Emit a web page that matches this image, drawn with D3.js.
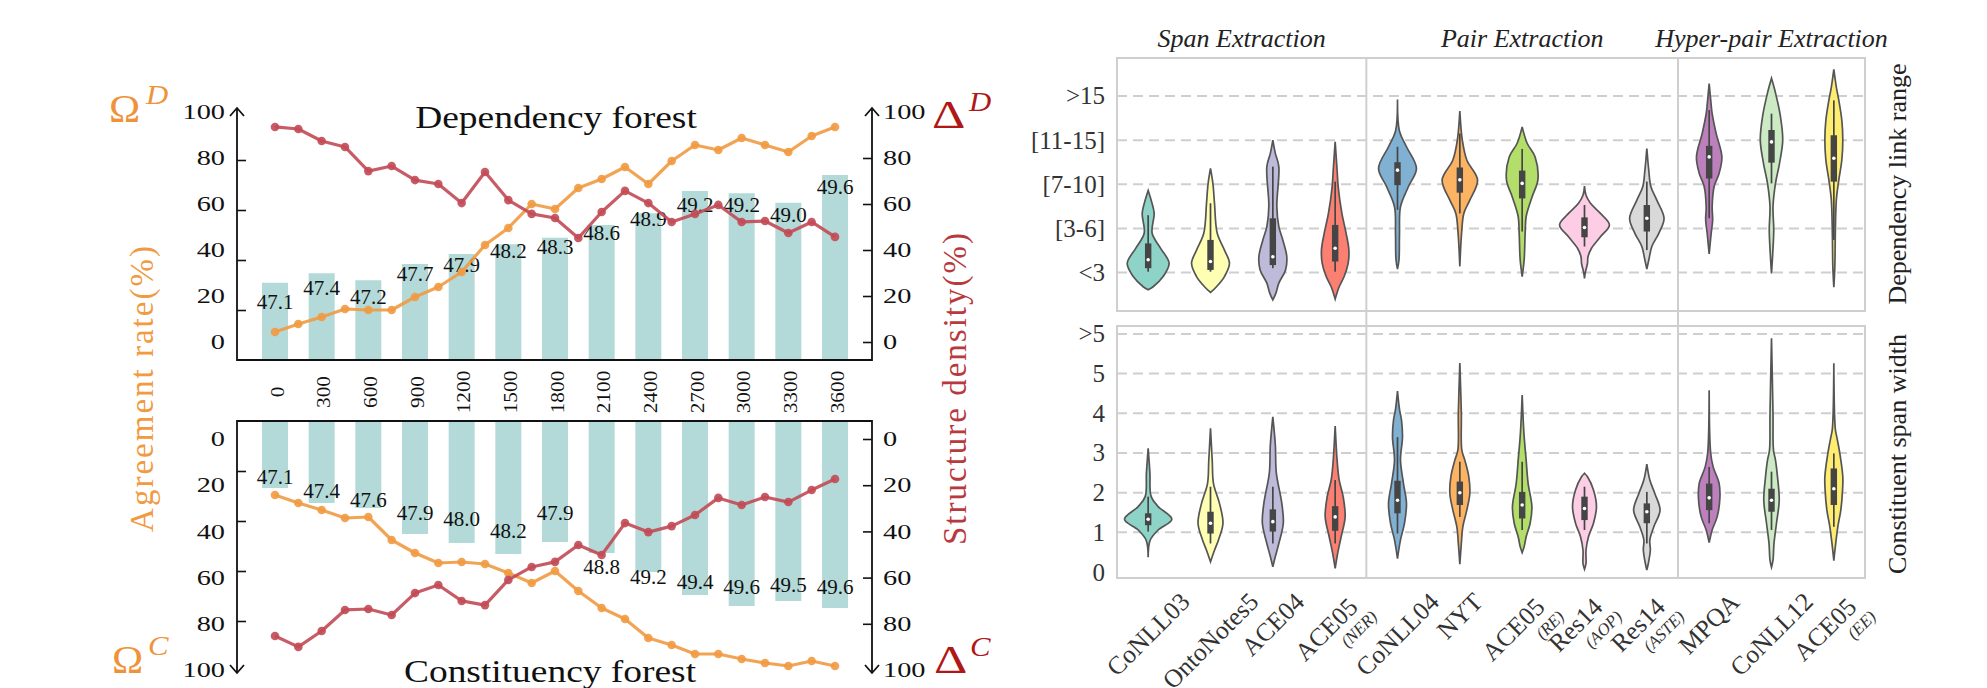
<!DOCTYPE html>
<html>
<head>
<meta charset="utf-8">
<script src="https://cdn.jsdelivr.net/npm/d3@7"></script>
<style>
  body { margin: 0; background: #fff; }
  svg { display: block; }
  text { font-family: "Liberation Serif", serif; }
</style>
</head>
<body>
<svg id="fig" width="1987" height="688"></svg>
<script>
// ---------------- data: left figure ----------------
var steps = ["0","300","600","900","1200","1500","1800","2100","2400","2700","3000","3300","3600"];

var depBarLabels = [47.1,47.4,47.2,47.7,47.9,48.2,48.3,48.6,48.9,49.2,49.2,49.0,49.6];
var depBars = [30.9,34.7,31.9,38.4,42.4,46.3,48.9,54.0,58.7,67.6,66.7,62.9,74.0];
var depAgree = [11.2,14.4,17.2,20.4,20.0,20.0,25.2,29.2,35.2,46.0,52.8,62.4,60.4,68.8,72.4,77.2,70.4,79.6,86.0,84.0,88.8,86.0,83.2,89.6,93.2];
var depDensity = [93.5,92.6,87.4,84.8,74.3,76.5,70.4,68.7,60.4,73.9,61.7,55.7,53.9,45.2,56.5,65.7,60.4,52.2,55.7,59.6,52.2,52.6,47.4,52.2,45.7];

var conBarLabels = [47.1,47.4,47.6,47.9,48.0,48.2,47.9,48.8,49.2,49.4,49.6,49.5,49.6];
var conBars = [26.8,32.8,34.8,45.2,48.8,53.2,48.4,52.8,60.4,69.6,74.0,72.0,74.8];
var conAgree = [29.6,32.8,35.6,38.8,38.4,47.6,52.8,56.8,56.4,57.2,60.8,64.8,60.0,68.0,74.8,79.2,86.8,89.6,93.2,93.2,95.2,96.8,98.0,96.0,98.0];
var conDensity = [85.3,90.0,83.1,74.0,73.6,76.2,66.7,63.2,70.1,71.9,61.0,55.4,53.2,45.9,50.2,36.4,40.3,37.7,32.9,25.5,28.6,25.1,27.3,22.1,17.3];

var axisTicks = [0,20,40,60,80,100];

// ---------------- data: right figure (violins) ----------------
var datasets = ["CoNLL03","OntoNotes5","ACE04","ACE05","CoNLL04","NYT","ACE05","Res14","Res14","MPQA","CoNLL12","ACE05"];
var subsets  = ["","","","(NER)","","","(RE)","(AOP)","(ASTE)","","","(EE)"];
var taskNames = ["Span Extraction","Pair Extraction","Hyper-pair Extraction"];
var taskSizes = [4,5,3];
var linkTicks = ["<3","[3-6]","[7-10]","[11-15]",">15"];
var spanTicks = ["0","1","2","3","4","5",">5"];

// box = [whisker low, q1, median, q3, whisker high]; prof = [value, relative density], top to bottom
var linkViolins = [
  {box:[0.02,0.10,0.29,0.66,1.30], prof:[[1.86,0],[1.6,.14],[1.34,.24],[0.89,.16],[0.55,.5],[0.21,.84],[-0.09,.6],[-0.32,.2],[-0.39,0]]},
  {box:[0.02,0.06,0.25,0.74,1.57], prof:[[2.36,0],[2.0,.1],[1.57,.16],[0.89,.27],[0.51,.56],[0.21,.76],[-0.09,.56],[-0.32,.24],[-0.45,0]]},
  {box:[0.10,0.17,0.36,1.23,2.40], prof:[[3.0,0],[2.7,.1],[2.4,.24],[1.5,.16],[1.04,.24],[0.74,.4],[0.36,.56],[0.06,.51],[-0.24,.24],[-0.47,.12],[-0.62,0]]},
  {box:[0.02,0.25,0.55,1.08,2.06], prof:[[2.96,0],[2.3,.08],[1.95,.12],[1.34,.27],[0.89,.44],[0.51,.55],[0.21,.52],[-0.09,.36],[-0.32,.16],[-0.6,0]]},
  {box:[1.42,1.98,2.32,2.50,2.85], prof:[[3.92,0],[3.2,.08],[2.85,.36],[2.36,.76],[1.95,.44],[1.49,.12],[0.89,.08],[0.29,.06],[0.08,0]]},
  {box:[1.34,1.81,2.10,2.38,3.15], prof:[[3.66,0],[3.0,.1],[2.55,.28],[2.1,.71],[1.64,.4],[1.34,.16],[0.89,.07],[0.14,0]]},
  {box:[0.93,1.68,2.02,2.31,2.80], prof:[[3.3,0],[2.93,.2],[2.62,.52],[2.1,.63],[1.72,.4],[1.27,.16],[0.89,.12],[0.29,.08],[-0.09,0]]},
  {box:[0.59,0.80,1.02,1.25,1.53], prof:[[1.96,0],[1.75,.06],[1.57,.24],[1.34,.64],[1.08,1.0],[0.81,.64],[0.55,.28],[0.36,.14],[0.21,.12],[0.02,.04],[-0.13,0]]},
  {box:[0.51,0.93,1.23,1.53,2.06], prof:[[2.81,0],[2.3,.08],[1.95,.16],[1.64,.4],[1.23,.69],[0.89,.48],[0.59,.2],[0.29,.08],[0.08,0]]},
  {box:[1.23,2.13,2.62,2.87,3.68], prof:[[4.28,0],[3.8,.08],[3.6,.12],[3.15,.28],[2.62,.51],[2.25,.4],[1.95,.2],[1.49,.12],[1.19,.14],[0.89,.08],[0.42,0]]},
  {box:[2.02,2.49,2.96,3.23,3.60], prof:[[4.4,0],[4.07,.16],[3.53,.36],[3.0,.45],[2.47,.32],[2.02,.16],[1.49,.06],[0.97,.09],[0.44,.05],[-0.02,0]]},
  {box:[0.74,2.06,2.59,3.11,3.90], prof:[[4.6,0],[4.2,.1],[3.9,.2],[3.45,.32],[3.0,.36],[2.55,.32],[2.1,.2],[1.64,.1],[0.89,.06],[0.14,.04],[-0.33,0]]}
];
var spanViolins = [
  {box:[1.02,1.18,1.33,1.48,1.90], prof:[[3.12,0],[2.5,.07],[1.9,.12],[1.65,.4],[1.33,.95],[1.06,.4],[0.8,.08],[0.37,0]]},
  {box:[0.72,0.97,1.23,1.52,2.15], prof:[[3.62,0],[2.8,.07],[2.23,.12],[1.73,.36],[1.23,.5],[0.81,.32],[0.55,.16],[0.26,0]]},
  {box:[0.72,1.02,1.27,1.58,2.15], prof:[[3.91,0],[3.2,.1],[2.5,.14],[1.73,.36],[1.23,.42],[0.72,.24],[0.39,.1],[0.13,0]]},
  {box:[0.72,1.04,1.39,1.66,2.32], prof:[[3.68,0],[2.8,.08],[2.32,.16],[1.9,.32],[1.39,.4],[0.89,.24],[0.47,.1],[0.09,0]]},
  {box:[0.97,1.48,1.81,2.30,3.40], prof:[[4.56,0],[4.1,.08],[3.83,.16],[3.4,.2],[2.82,.12],[2.23,.24],[1.73,.36],[1.23,.28],[0.81,.12],[0.34,0]]},
  {box:[1.39,1.69,2.00,2.28,2.78], prof:[[5.27,0],[4.0,.06],[3.07,.08],[2.82,.2],[2.4,.36],[1.98,.4],[1.56,.28],[1.14,.12],[0.72,.06],[0.2,0]]},
  {box:[1.06,1.35,1.69,2.02,2.78], prof:[[4.46,0],[3.5,.07],[2.82,.16],[2.23,.24],[1.65,.39],[1.23,.32],[0.89,.16],[0.64,.08],[0.49,0]]},
  {box:[1.06,1.31,1.60,1.90,2.15], prof:[[2.49,0],[2.4,.12],[2.07,.36],[1.65,.48],[1.23,.36],[0.89,.16],[0.55,.06],[0.22,.06],[0.07,0]]},
  {box:[0.72,1.23,1.52,1.73,2.02], prof:[[2.72,0],[2.32,.12],[1.98,.32],[1.56,.53],[1.14,.28],[0.81,.12],[0.55,.14],[0.22,.06],[0.05,0]]},
  {box:[1.23,1.56,1.87,2.23,2.65], prof:[[4.58,0],[3.0,.06],[2.65,.16],[2.23,.4],[1.86,.43],[1.39,.32],[1.06,.12],[0.74,0]]},
  {box:[1.06,1.52,1.81,2.10,2.53], prof:[[5.89,0],[4.0,.06],[3.07,.08],[2.82,.16],[2.4,.24],[1.81,.31],[1.23,.2],[0.72,.1],[0.3,.06],[0.12,0]]},
  {box:[1.14,1.69,2.10,2.61,2.99], prof:[[5.26,0],[3.6,.06],[3.4,.12],[2.99,.24],[2.4,.36],[2.07,.35],[1.56,.28],[1.14,.16],[0.64,.06],[0.29,0]]}
];

// ---------------- colours ----------------
var orange = "#f19a42", red = "#c24a55", barFill = "#b3dad8";
var omegaCol = "#f0923a", deltaCol = "#b01818", densLabelCol = "#b83a3e";

var svg = d3.select("#fig");

// text stretched horizontally (the original font is wider than Liberation Serif)
function stext(g, x, y, str, size, sx, extra) {
  var t = g.append("text")
    .attr("transform", "translate(" + x + "," + y + ")" + (extra || "") + " scale(" + sx + ",1)")
    .attr("font-size", size)
    .text(str);
  return t;
}
function stretchAxisText(g, sx) {
  g.selectAll(".tick text").each(function () {
    var t = d3.select(this);
    var x = +t.attr("x") || 0;
    t.attr("x", 0).attr("transform", "translate(" + x + ",0) scale(" + sx + ",1)");
  });
}

// ---------------- left figure ----------------
var xi = d3.scaleLinear().domain([0, 12]).range([275, 835]);
var axL = 237, axR = 872, barW = 26;

function forest(o) {
  var g = svg.append("g");
  var base = o.yL(0);

  // bars
  g.selectAll("rect.bar").data(o.bars).enter().append("rect")
    .attr("x", function (d, i) { return xi(i) - barW / 2; })
    .attr("width", barW)
    .attr("y", function (d) { return Math.min(o.yL(d), base); })
    .attr("height", function (d) { return Math.abs(o.yL(d) - base); })
    .attr("fill", barFill);

  // bar labels
  g.selectAll("text.bl").data(o.labels).enter().append("text")
    .attr("x", function (d, i) { return xi(i); })
    .attr("y", function (d) { return o.labY(d); })
    .attr("text-anchor", "middle")
    .attr("dominant-baseline", "central")
    .attr("font-size", 21)
    .attr("fill", "#111")
    .text(function (d) { return d.toFixed(1); });

  // lines
  function series(vals, y, col) {
    var line = d3.line().x(function (d, i) { return xi(i / 2); }).y(function (d) { return y(d); });
    g.append("path").datum(vals).attr("d", line)
      .attr("fill", "none").attr("stroke", col).attr("stroke-width", 3.2)
      .attr("stroke-opacity", 0.9).attr("stroke-linejoin", "round");
    g.selectAll(null).data(vals).enter().append("circle")
      .attr("cx", function (d, i) { return xi(i / 2); })
      .attr("cy", function (d) { return y(d); })
      .attr("r", 4.3).attr("fill", col).attr("fill-opacity", 0.9);
  }
  series(o.agree, o.yL, orange);
  series(o.density, o.yR, red);

  // axes frame
  var tip = o.yL(100) + o.dir * 2;
  g.append("path")
    .attr("d", "M" + axL + "," + tip + "V" + base + "H" + axR + "V" + tip)
    .attr("fill", "none").attr("stroke", "#111").attr("stroke-width", 1.8);
  [axL, axR].forEach(function (x) {
    g.append("path")
      .attr("d", "M" + (x - 7) + "," + (tip - o.dir * 8) + "L" + x + "," + tip + "L" + (x + 7) + "," + (tip - o.dir * 8))
      .attr("fill", "none").attr("stroke", "#111").attr("stroke-width", 1.8);
  });

  // tick marks
  var tl = g.append("g").attr("transform", "translate(" + axL + ",0)")
    .call(d3.axisRight(o.yL).tickValues([20, 40, 60, 80]).tickSize(9).tickFormat(""));
  var tr = g.append("g").attr("transform", "translate(" + axR + ",0)")
    .call(d3.axisLeft(o.yR).tickValues([0, 20, 40, 60, 80]).tickSize(9).tickFormat(""));
  [tl, tr].forEach(function (a) {
    a.select(".domain").remove();
    a.selectAll("line").attr("stroke", "#111").attr("stroke-width", 1.6);
  });

  // tick labels (both sides follow the right-hand spacing, as in the original)
  var ll = g.append("g").attr("transform", "translate(" + axL + ",0)")
    .call(d3.axisLeft(o.yR).tickValues(axisTicks).tickSize(0).tickPadding(12));
  var lr = g.append("g").attr("transform", "translate(" + axR + ",0)")
    .call(d3.axisRight(o.yR).tickValues(axisTicks).tickSize(0).tickPadding(11));
  [ll, lr].forEach(function (a) {
    a.select(".domain").remove();
    a.attr("font-family", "Liberation Serif").attr("font-size", 21);
    a.selectAll("text").attr("fill", "#111");
    stretchAxisText(a, 1.35);
  });

  stext(g, o.titleX, o.titleY, o.title, 32, 1.17).attr("text-anchor", "middle").attr("fill", "#111");
  return g;
}

forest({
  bars: depBars, labels: depBarLabels, agree: depAgree, density: depDensity,
  yL: d3.scaleLinear().domain([0, 100]).range([360, 110]),
  yR: d3.scaleLinear().domain([0, 100]).range([342, 112]),
  labY: d3.scaleLinear().domain([47.1, 49.6]).range([302, 187]),
  dir: -1, title: "Dependency forest", titleX: 556, titleY: 128
});
forest({
  bars: conBars, labels: conBarLabels, agree: conAgree, density: conDensity,
  yL: d3.scaleLinear().domain([0, 100]).range([421, 671]),
  yR: d3.scaleLinear().domain([0, 100]).range([439, 670]),
  labY: d3.scaleLinear().domain([47.1, 47.9, 48.8, 49.6]).range([477, 513, 567, 587]),
  dir: 1, title: "Constituency forest", titleX: 550, titleY: 682
});

// step labels between the two panels
var lg = svg.append("g");
steps.forEach(function (s, i) {
  stext(lg, xi(i) + 2, 392, s, 19, 1.12, " rotate(-90)")
    .attr("text-anchor", "middle").attr("dominant-baseline", "central").attr("fill", "#111");
});

// axis titles (letter-spaced rather than scaled)
lg.append("text").attr("transform", "translate(142,388) rotate(-90)")
  .attr("text-anchor", "middle").attr("dominant-baseline", "central")
  .attr("font-size", 33).attr("letter-spacing", 2).attr("fill", orange)
  .text("Agreement rate(%)");
lg.append("text").attr("transform", "translate(955,388) rotate(-90)")
  .attr("text-anchor", "middle").attr("dominant-baseline", "central")
  .attr("font-size", 33).attr("letter-spacing", 2).attr("fill", densLabelCol)
  .text("Structure density(%)");

stext(lg, 109, 122, "\u03A9", 40, 1.05).attr("fill", omegaCol);
stext(lg, 146, 104, "D", 28, 1.1).attr("fill", omegaCol).attr("font-style", "italic");
stext(lg, 112, 673, "\u03A9", 40, 1.05).attr("fill", omegaCol);
stext(lg, 148, 655, "C", 28, 1.1).attr("fill", omegaCol).attr("font-style", "italic");
stext(lg, 932, 128, "\u0394", 40, 1.3).attr("fill", deltaCol);
stext(lg, 969, 111, "D", 28, 1.1).attr("fill", deltaCol).attr("font-style", "italic");
stext(lg, 934, 673, "\u0394", 40, 1.3).attr("fill", deltaCol);
stext(lg, 970, 656, "C", 28, 1.1).attr("fill", deltaCol).attr("font-style", "italic");

// ---------------- right figure ----------------
var vx = d3.scaleBand().domain(d3.range(datasets.length)).range([1117, 1865]);
var yLink = d3.scaleLinear().domain([-0.87, 4.86]).range([311, 58]);
var ySpan = d3.scaleLinear().domain([-0.15, 6.2]).range([578, 326]);
var vw = d3.scaleLinear().domain([0, 1]).range([0, vx.bandwidth() * 0.4]);
var colors = d3.schemeSet3;
var frameCol = "#cfcfcf", txtCol = "#333";

var rg = svg.append("g");

function violinPanel(data, y, gridVals, tickLabels) {
  var g = rg.append("g");
  var x0 = vx.range()[0], x1 = vx.range()[1];

  g.selectAll(null).data(gridVals).enter().append("line")
    .attr("x1", x0).attr("x2", x1)
    .attr("y1", function (d) { return y(d); }).attr("y2", function (d) { return y(d); })
    .attr("stroke", frameCol).attr("stroke-width", 2).attr("stroke-dasharray", "10,6");

  g.append("rect")
    .attr("x", x0).attr("y", y.range()[1])
    .attr("width", x1 - x0).attr("height", y.range()[0] - y.range()[1])
    .attr("fill", "none").attr("stroke", frameCol).attr("stroke-width", 2);

  data.forEach(function (d, i) {
    var cx = vx(i) + vx.bandwidth() / 2;
    var area = d3.area().curve(d3.curveCatmullRom.alpha(0.5))
      .y(function (p) { return y(p[0]); })
      .x0(function (p) { return cx - vw(p[1]); })
      .x1(function (p) { return cx + vw(p[1]); });
    g.append("path").attr("d", area(d.prof))
      .attr("fill", colors[i]).attr("stroke", "#555").attr("stroke-width", 1.7);
    g.append("line").attr("x1", cx).attr("x2", cx)
      .attr("y1", y(d.box[0])).attr("y2", y(d.box[4]))
      .attr("stroke", "#454545").attr("stroke-width", 1.7);
    g.append("rect").attr("x", cx - 3.2).attr("width", 6.4)
      .attr("y", y(d.box[3])).attr("height", y(d.box[1]) - y(d.box[3]))
      .attr("fill", "#454545");
    g.append("circle").attr("cx", cx).attr("cy", y(d.box[2])).attr("r", 1.8).attr("fill", "#fff");
  });

  var ax = g.append("g").attr("transform", "translate(" + x0 + ",0)")
    .call(d3.axisLeft(y).tickValues(d3.range(tickLabels.length)).tickSize(0).tickPadding(12)
      .tickFormat(function (v) { return tickLabels[v]; }));
  ax.select(".domain").remove();
  ax.attr("font-family", "Liberation Serif").attr("font-size", 25);
  ax.selectAll("text").attr("fill", txtCol);
}

violinPanel(linkViolins, yLink, d3.range(linkTicks.length), linkTicks);
violinPanel(spanViolins, ySpan, d3.range(1, spanTicks.length), spanTicks);

// task dividers and titles
var acc = 0;
taskNames.forEach(function (name, k) {
  var start = vx(acc), end = vx(acc + taskSizes[k] - 1) + vx.bandwidth();
  if (k > 0) {
    rg.append("line").attr("x1", start).attr("x2", start)
      .attr("y1", yLink.range()[1]).attr("y2", ySpan.range()[0])
      .attr("stroke", frameCol).attr("stroke-width", 2);
  }
  rg.append("text").attr("x", (start + end) / 2).attr("y", 47)
    .attr("text-anchor", "middle").attr("font-size", 26).attr("font-style", "italic")
    .attr("fill", "#222").text(name);
  acc += taskSizes[k];
});

// side titles
rg.append("text").attr("transform", "translate(1897,184) rotate(-90)")
  .attr("text-anchor", "middle").attr("dominant-baseline", "central")
  .attr("font-size", 26).attr("fill", "#222").text("Dependency link range");
rg.append("text").attr("transform", "translate(1897,454) rotate(-90)")
  .attr("text-anchor", "middle").attr("dominant-baseline", "central")
  .attr("font-size", 26).attr("fill", "#222").text("Constituent span width");

// rotated dataset labels, bbox centred on the tick, top just under the frame
var labelTop = 587;
datasets.forEach(function (name, i) {
  var outer = rg.append("g");
  var inner = outer.append("g").attr("transform", "rotate(-45)");
  var main = inner.append("text").attr("text-anchor", "middle")
    .attr("font-size", 25.5).attr("fill", txtCol).text(name);
  if (subsets[i]) {
    var len = main.node().getComputedTextLength();
    inner.append("text").attr("text-anchor", "end")
      .attr("x", len / 2 + 7).attr("y", 20)
      .attr("font-size", 17).attr("font-style", "italic").attr("fill", txtCol)
      .text(subsets[i]);
  }
  var bb = outer.node().getBBox();
  var cx = vx(i) + vx.bandwidth() / 2;
  outer.attr("transform", "translate(" + (cx - (bb.x + bb.width / 2)) + "," + (labelTop - bb.y) + ")");
});
</script>
</body>
</html>
